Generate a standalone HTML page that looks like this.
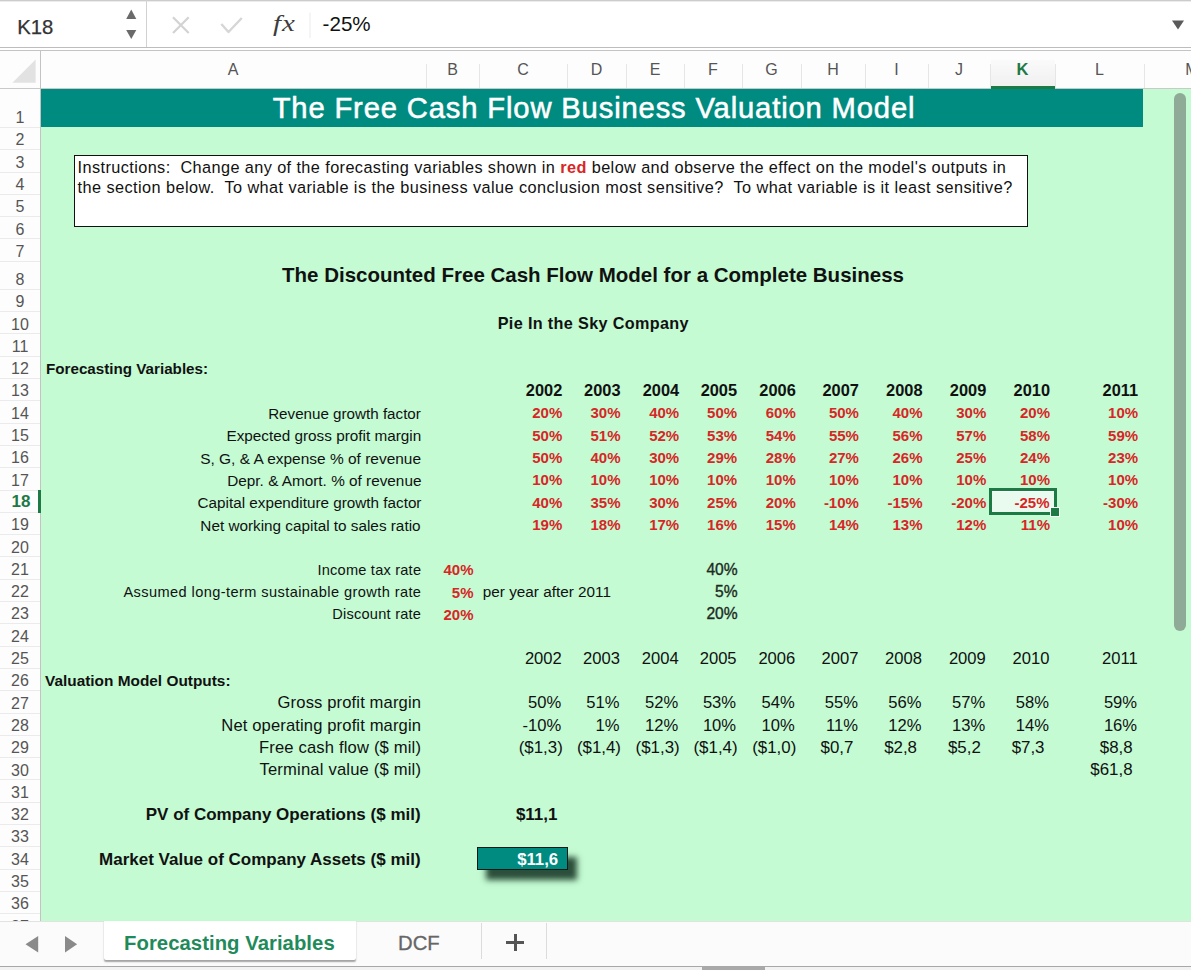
<!DOCTYPE html><html><head><meta charset="utf-8"><style>html,body{margin:0;padding:0;}body{width:1191px;height:970px;position:relative;overflow:hidden;background:#fff;}</style></head><body>
<div style="position:absolute;left:41px;top:88.5px;width:1150px;height:833.5px;background:#c4fbd3;"></div>
<div style="position:absolute;left:41px;top:89px;width:1102px;height:38px;background:#008b80;"></div>
<div style="position:absolute;left:0px;top:0px;width:1191px;height:1px;background:#cccccc;"></div>
<div style="position:absolute;left:0px;top:1px;width:1191px;height:1px;background:#ececec;"></div>
<div style="position:absolute;left:0px;top:47px;width:1191px;height:1px;background:#bdbdbd;"></div>
<div style="position:absolute;left:0px;top:50px;width:1191px;height:1px;background:#c4c4c4;"></div>
<div style="position:absolute;left:146px;top:0px;width:1px;height:47px;background:#d2d2d2;"></div>
<div style="position:absolute;top:15.09px;font-family:'Liberation Sans';font-size:20.3px;line-height:24.36px;white-space:pre;color:#333;left:17.2px;-webkit-text-stroke:0.25px #333;">K18</div>
<svg style="position:absolute;left:0;top:0" width="400" height="47"><polygon points="126.2,19.1 136.3,19.1 131.25,9.4" fill="#6a6a6a"/><polygon points="126.2,29.9 136.3,29.9 131.25,39" fill="#6a6a6a"/><path d="M173 17.3 L188.7 33 M188.7 17.3 L173 33" stroke="#d3d3d3" stroke-width="2.2" fill="none"/><path d="M221.3 24 L228.5 32 L241.8 18" stroke="#d6d6d6" stroke-width="2.4" fill="none" stroke-linejoin="round"/><rect x="309.5" y="12.5" width="1" height="25.5" fill="#ececec"/></svg>
<div style="position:absolute;top:10.30px;font-family:'Liberation Serif';font-size:22.5px;line-height:27.0px;white-space:pre;color:#3c3c3c;font-style:italic;left:272.5px;transform:scaleX(1.28);transform-origin:0 0;letter-spacing:0.8px;">fx</div>
<div style="position:absolute;top:12.10px;font-family:'Liberation Sans';font-size:20.6px;line-height:24.72px;white-space:pre;color:#111;left:322.6px;">-25%</div>
<svg style="position:absolute;left:1165px;top:15px" width="25" height="20"><polygon points="7,5.4 19,5.4 13,14.5" fill="#5a5a5a"/></svg>
<div style="position:absolute;left:0px;top:51px;width:1191px;height:37px;background:#fdfdfd;"></div>
<div style="position:absolute;left:0px;top:87.5px;width:1191px;height:1px;background:#c9c9c9;"></div>
<svg style="position:absolute;left:0;top:51px" width="40" height="37"><polygon points="12.4,31.8 35.6,31.8 35.6,8.6" fill="#e2e2e2"/></svg>
<div style="position:absolute;left:40px;top:51px;width:1px;height:871px;background:#c3c3c3;"></div>
<div style="position:absolute;left:425.5px;top:64px;width:1px;height:24px;background:#e6e6e6;"></div>
<div style="position:absolute;left:478.5px;top:64px;width:1px;height:24px;background:#e6e6e6;"></div>
<div style="position:absolute;left:566.5px;top:64px;width:1px;height:24px;background:#e6e6e6;"></div>
<div style="position:absolute;left:625.5px;top:64px;width:1px;height:24px;background:#e6e6e6;"></div>
<div style="position:absolute;left:683.5px;top:64px;width:1px;height:24px;background:#e6e6e6;"></div>
<div style="position:absolute;left:741.5px;top:64px;width:1px;height:24px;background:#e6e6e6;"></div>
<div style="position:absolute;left:800.5px;top:64px;width:1px;height:24px;background:#e6e6e6;"></div>
<div style="position:absolute;left:864.5px;top:64px;width:1px;height:24px;background:#e6e6e6;"></div>
<div style="position:absolute;left:927.5px;top:64px;width:1px;height:24px;background:#e6e6e6;"></div>
<div style="position:absolute;left:989.5px;top:64px;width:1px;height:24px;background:#e6e6e6;"></div>
<div style="position:absolute;left:1054.5px;top:64px;width:1px;height:24px;background:#e6e6e6;"></div>
<div style="position:absolute;left:1143.5px;top:64px;width:1px;height:24px;background:#e6e6e6;"></div>
<div style="position:absolute;left:990.5px;top:59.8px;width:64.5px;height:26px;background:linear-gradient(#fafafa,#f0f0f0)"></div>
<div style="position:absolute;left:990.5px;top:85.5px;width:64.5px;height:3px;background:#1d7a45;"></div>
<div style="position:absolute;top:60.46px;font-family:'Liberation Sans';font-size:16px;line-height:19.2px;white-space:pre;color:#555;left:-367.0px;width:1200px;text-align:center;">A</div>
<div style="position:absolute;top:60.46px;font-family:'Liberation Sans';font-size:16px;line-height:19.2px;white-space:pre;color:#555;left:-147.5px;width:1200px;text-align:center;">B</div>
<div style="position:absolute;top:60.46px;font-family:'Liberation Sans';font-size:16px;line-height:19.2px;white-space:pre;color:#555;left:-77.0px;width:1200px;text-align:center;">C</div>
<div style="position:absolute;top:60.46px;font-family:'Liberation Sans';font-size:16px;line-height:19.2px;white-space:pre;color:#555;left:-3.5px;width:1200px;text-align:center;">D</div>
<div style="position:absolute;top:60.46px;font-family:'Liberation Sans';font-size:16px;line-height:19.2px;white-space:pre;color:#555;left:55.0px;width:1200px;text-align:center;">E</div>
<div style="position:absolute;top:60.46px;font-family:'Liberation Sans';font-size:16px;line-height:19.2px;white-space:pre;color:#555;left:113.0px;width:1200px;text-align:center;">F</div>
<div style="position:absolute;top:60.46px;font-family:'Liberation Sans';font-size:16px;line-height:19.2px;white-space:pre;color:#555;left:171.5px;width:1200px;text-align:center;">G</div>
<div style="position:absolute;top:60.46px;font-family:'Liberation Sans';font-size:16px;line-height:19.2px;white-space:pre;color:#555;left:233.0px;width:1200px;text-align:center;">H</div>
<div style="position:absolute;top:60.46px;font-family:'Liberation Sans';font-size:16px;line-height:19.2px;white-space:pre;color:#555;left:296.5px;width:1200px;text-align:center;">I</div>
<div style="position:absolute;top:60.46px;font-family:'Liberation Sans';font-size:16px;line-height:19.2px;white-space:pre;color:#555;left:359.0px;width:1200px;text-align:center;">J</div>
<div style="position:absolute;top:60.28px;font-family:'Liberation Sans';font-size:16.5px;line-height:19.8px;white-space:pre;color:#1d7a45;font-weight:bold;left:422.5px;width:1200px;text-align:center;">K</div>
<div style="position:absolute;top:60.46px;font-family:'Liberation Sans';font-size:16px;line-height:19.2px;white-space:pre;color:#555;left:499.5px;width:1200px;text-align:center;">L</div>
<div style="position:absolute;top:60.46px;font-family:'Liberation Sans';font-size:16px;line-height:19.2px;white-space:pre;color:#555;left:1185.3px;">M</div>
<div style="position:absolute;left:0px;top:88.5px;width:40px;height:833.5px;background:#fdfdfd;"></div>
<div style="position:absolute;left:0px;top:126.9px;width:40px;height:1px;background:#ebebeb;"></div>
<div style="position:absolute;left:0px;top:149.20000000000002px;width:40px;height:1px;background:#ebebeb;"></div>
<div style="position:absolute;left:0px;top:171.50000000000003px;width:40px;height:1px;background:#ebebeb;"></div>
<div style="position:absolute;left:0px;top:193.8px;width:40px;height:1px;background:#ebebeb;"></div>
<div style="position:absolute;left:0px;top:216.10000000000002px;width:40px;height:1px;background:#ebebeb;"></div>
<div style="position:absolute;left:0px;top:238.40000000000003px;width:40px;height:1px;background:#ebebeb;"></div>
<div style="position:absolute;left:0px;top:260.7px;width:40px;height:1px;background:#ebebeb;"></div>
<div style="position:absolute;left:0px;top:288.8px;width:40px;height:1px;background:#ebebeb;"></div>
<div style="position:absolute;left:0px;top:311.1px;width:40px;height:1px;background:#ebebeb;"></div>
<div style="position:absolute;left:0px;top:333.40000000000003px;width:40px;height:1px;background:#ebebeb;"></div>
<div style="position:absolute;left:0px;top:355.70000000000005px;width:40px;height:1px;background:#ebebeb;"></div>
<div style="position:absolute;left:0px;top:378.00000000000006px;width:40px;height:1px;background:#ebebeb;"></div>
<div style="position:absolute;left:0px;top:400.3px;width:40px;height:1px;background:#ebebeb;"></div>
<div style="position:absolute;left:0px;top:422.6px;width:40px;height:1px;background:#ebebeb;"></div>
<div style="position:absolute;left:0px;top:444.90000000000003px;width:40px;height:1px;background:#ebebeb;"></div>
<div style="position:absolute;left:0px;top:467.2px;width:40px;height:1px;background:#ebebeb;"></div>
<div style="position:absolute;left:0px;top:489.50000000000006px;width:40px;height:1px;background:#ebebeb;"></div>
<div style="position:absolute;left:0px;top:511.79999999999995px;width:40px;height:1px;background:#ebebeb;"></div>
<div style="position:absolute;left:0px;top:534.0999999999999px;width:40px;height:1px;background:#ebebeb;"></div>
<div style="position:absolute;left:0px;top:556.4px;width:40px;height:1px;background:#ebebeb;"></div>
<div style="position:absolute;left:0px;top:578.7px;width:40px;height:1px;background:#ebebeb;"></div>
<div style="position:absolute;left:0px;top:601.0px;width:40px;height:1px;background:#ebebeb;"></div>
<div style="position:absolute;left:0px;top:623.3px;width:40px;height:1px;background:#ebebeb;"></div>
<div style="position:absolute;left:0px;top:645.5999999999999px;width:40px;height:1px;background:#ebebeb;"></div>
<div style="position:absolute;left:0px;top:667.9px;width:40px;height:1px;background:#ebebeb;"></div>
<div style="position:absolute;left:0px;top:690.2px;width:40px;height:1px;background:#ebebeb;"></div>
<div style="position:absolute;left:0px;top:712.5px;width:40px;height:1px;background:#ebebeb;"></div>
<div style="position:absolute;left:0px;top:734.8px;width:40px;height:1px;background:#ebebeb;"></div>
<div style="position:absolute;left:0px;top:757.0999999999999px;width:40px;height:1px;background:#ebebeb;"></div>
<div style="position:absolute;left:0px;top:779.4px;width:40px;height:1px;background:#ebebeb;"></div>
<div style="position:absolute;left:0px;top:801.7px;width:40px;height:1px;background:#ebebeb;"></div>
<div style="position:absolute;left:0px;top:824.0px;width:40px;height:1px;background:#ebebeb;"></div>
<div style="position:absolute;left:0px;top:846.3px;width:40px;height:1px;background:#ebebeb;"></div>
<div style="position:absolute;left:0px;top:868.5999999999999px;width:40px;height:1px;background:#ebebeb;"></div>
<div style="position:absolute;left:0px;top:890.9000000000001px;width:40px;height:1px;background:#ebebeb;"></div>
<div style="position:absolute;left:0px;top:913.2px;width:40px;height:1px;background:#ebebeb;"></div>
<div style="position:absolute;left:0;top:0;width:41px;height:921px;overflow:hidden">
<div style="position:absolute;top:108.36px;font-family:'Liberation Sans';font-size:16px;line-height:19.2px;white-space:pre;color:#555;left:-580px;width:1200px;text-align:center;">1</div>
<div style="position:absolute;top:130.36px;font-family:'Liberation Sans';font-size:16px;line-height:19.2px;white-space:pre;color:#555;left:-580px;width:1200px;text-align:center;">2</div>
<div style="position:absolute;top:152.66px;font-family:'Liberation Sans';font-size:16px;line-height:19.2px;white-space:pre;color:#555;left:-580px;width:1200px;text-align:center;">3</div>
<div style="position:absolute;top:174.96px;font-family:'Liberation Sans';font-size:16px;line-height:19.2px;white-space:pre;color:#555;left:-580px;width:1200px;text-align:center;">4</div>
<div style="position:absolute;top:197.26px;font-family:'Liberation Sans';font-size:16px;line-height:19.2px;white-space:pre;color:#555;left:-580px;width:1200px;text-align:center;">5</div>
<div style="position:absolute;top:219.56px;font-family:'Liberation Sans';font-size:16px;line-height:19.2px;white-space:pre;color:#555;left:-580px;width:1200px;text-align:center;">6</div>
<div style="position:absolute;top:241.86px;font-family:'Liberation Sans';font-size:16px;line-height:19.2px;white-space:pre;color:#555;left:-580px;width:1200px;text-align:center;">7</div>
<div style="position:absolute;top:269.96px;font-family:'Liberation Sans';font-size:16px;line-height:19.2px;white-space:pre;color:#555;left:-580px;width:1200px;text-align:center;">8</div>
<div style="position:absolute;top:292.26px;font-family:'Liberation Sans';font-size:16px;line-height:19.2px;white-space:pre;color:#555;left:-580px;width:1200px;text-align:center;">9</div>
<div style="position:absolute;top:314.56px;font-family:'Liberation Sans';font-size:16px;line-height:19.2px;white-space:pre;color:#555;left:-580px;width:1200px;text-align:center;">10</div>
<div style="position:absolute;top:336.86px;font-family:'Liberation Sans';font-size:16px;line-height:19.2px;white-space:pre;color:#555;left:-580px;width:1200px;text-align:center;">11</div>
<div style="position:absolute;top:359.16px;font-family:'Liberation Sans';font-size:16px;line-height:19.2px;white-space:pre;color:#555;left:-580px;width:1200px;text-align:center;">12</div>
<div style="position:absolute;top:381.46px;font-family:'Liberation Sans';font-size:16px;line-height:19.2px;white-space:pre;color:#555;left:-580px;width:1200px;text-align:center;">13</div>
<div style="position:absolute;top:403.76px;font-family:'Liberation Sans';font-size:16px;line-height:19.2px;white-space:pre;color:#555;left:-580px;width:1200px;text-align:center;">14</div>
<div style="position:absolute;top:426.06px;font-family:'Liberation Sans';font-size:16px;line-height:19.2px;white-space:pre;color:#555;left:-580px;width:1200px;text-align:center;">15</div>
<div style="position:absolute;top:448.36px;font-family:'Liberation Sans';font-size:16px;line-height:19.2px;white-space:pre;color:#555;left:-580px;width:1200px;text-align:center;">16</div>
<div style="position:absolute;top:470.66px;font-family:'Liberation Sans';font-size:16px;line-height:19.2px;white-space:pre;color:#555;left:-580px;width:1200px;text-align:center;">17</div>
<div style="position:absolute;top:492.01px;font-family:'Liberation Sans';font-size:17px;line-height:20.4px;white-space:pre;color:#1d7a45;font-weight:bold;left:-579px;width:1200px;text-align:center;">18</div>
<div style="position:absolute;top:515.26px;font-family:'Liberation Sans';font-size:16px;line-height:19.2px;white-space:pre;color:#555;left:-580px;width:1200px;text-align:center;">19</div>
<div style="position:absolute;top:537.56px;font-family:'Liberation Sans';font-size:16px;line-height:19.2px;white-space:pre;color:#555;left:-580px;width:1200px;text-align:center;">20</div>
<div style="position:absolute;top:559.86px;font-family:'Liberation Sans';font-size:16px;line-height:19.2px;white-space:pre;color:#555;left:-580px;width:1200px;text-align:center;">21</div>
<div style="position:absolute;top:582.16px;font-family:'Liberation Sans';font-size:16px;line-height:19.2px;white-space:pre;color:#555;left:-580px;width:1200px;text-align:center;">22</div>
<div style="position:absolute;top:604.46px;font-family:'Liberation Sans';font-size:16px;line-height:19.2px;white-space:pre;color:#555;left:-580px;width:1200px;text-align:center;">23</div>
<div style="position:absolute;top:626.76px;font-family:'Liberation Sans';font-size:16px;line-height:19.2px;white-space:pre;color:#555;left:-580px;width:1200px;text-align:center;">24</div>
<div style="position:absolute;top:649.06px;font-family:'Liberation Sans';font-size:16px;line-height:19.2px;white-space:pre;color:#555;left:-580px;width:1200px;text-align:center;">25</div>
<div style="position:absolute;top:671.36px;font-family:'Liberation Sans';font-size:16px;line-height:19.2px;white-space:pre;color:#555;left:-580px;width:1200px;text-align:center;">26</div>
<div style="position:absolute;top:693.66px;font-family:'Liberation Sans';font-size:16px;line-height:19.2px;white-space:pre;color:#555;left:-580px;width:1200px;text-align:center;">27</div>
<div style="position:absolute;top:715.96px;font-family:'Liberation Sans';font-size:16px;line-height:19.2px;white-space:pre;color:#555;left:-580px;width:1200px;text-align:center;">28</div>
<div style="position:absolute;top:738.26px;font-family:'Liberation Sans';font-size:16px;line-height:19.2px;white-space:pre;color:#555;left:-580px;width:1200px;text-align:center;">29</div>
<div style="position:absolute;top:760.56px;font-family:'Liberation Sans';font-size:16px;line-height:19.2px;white-space:pre;color:#555;left:-580px;width:1200px;text-align:center;">30</div>
<div style="position:absolute;top:782.86px;font-family:'Liberation Sans';font-size:16px;line-height:19.2px;white-space:pre;color:#555;left:-580px;width:1200px;text-align:center;">31</div>
<div style="position:absolute;top:805.16px;font-family:'Liberation Sans';font-size:16px;line-height:19.2px;white-space:pre;color:#555;left:-580px;width:1200px;text-align:center;">32</div>
<div style="position:absolute;top:827.46px;font-family:'Liberation Sans';font-size:16px;line-height:19.2px;white-space:pre;color:#555;left:-580px;width:1200px;text-align:center;">33</div>
<div style="position:absolute;top:849.76px;font-family:'Liberation Sans';font-size:16px;line-height:19.2px;white-space:pre;color:#555;left:-580px;width:1200px;text-align:center;">34</div>
<div style="position:absolute;top:872.06px;font-family:'Liberation Sans';font-size:16px;line-height:19.2px;white-space:pre;color:#555;left:-580px;width:1200px;text-align:center;">35</div>
<div style="position:absolute;top:894.36px;font-family:'Liberation Sans';font-size:16px;line-height:19.2px;white-space:pre;color:#555;left:-580px;width:1200px;text-align:center;">36</div>
<div style="position:absolute;top:916.66px;font-family:'Liberation Sans';font-size:16px;line-height:19.2px;white-space:pre;color:#555;left:-580px;width:1200px;text-align:center;">37</div>
</div>
<div style="position:absolute;left:37.8px;top:489.6px;width:3.3px;height:23.4px;background:#1d7a45;"></div>
<div style="position:absolute;top:90.76px;font-family:'Liberation Sans';font-size:29.2px;line-height:35.04px;white-space:pre;color:#fff;letter-spacing:0.85px;left:-6px;width:1200px;text-align:center;-webkit-text-stroke:0.55px #fff;">The Free Cash Flow Business Valuation Model</div>
<div style="position:absolute;left:73.8px;top:154.5px;width:954.2px;height:72.2px;background:#fff;box-sizing:border-box;border:solid #111;border-width:1.4px 1.9px 1.9px 1.4px;"></div>
<div style="position:absolute;left:77.6px;top:157.77px;font-family:'Liberation Sans';font-size:16.3px;line-height:19.56px;white-space:pre;color:#111;letter-spacing:0.4px">Instructions:  Change any of the forecasting variables shown in <b style="color:#d82626">red</b> below and observe the effect on the model's outputs in</div>
<div style="position:absolute;top:177.67px;font-family:'Liberation Sans';font-size:16.3px;line-height:19.56px;white-space:pre;color:#111;letter-spacing:0.43px;left:77.6px;">the section below.  To what variable is the business value conclusion most sensitive?  To what variable is it least sensitive?</div>
<div style="position:absolute;top:263.30px;font-family:'Liberation Sans';font-size:20.5px;line-height:24.6px;white-space:pre;color:#111;font-weight:bold;left:-7px;width:1200px;text-align:center;">The Discounted Free Cash Flow Model for a Complete Business</div>
<div style="position:absolute;top:313.77px;font-family:'Liberation Sans';font-size:16.2px;line-height:19.44px;white-space:pre;color:#111;font-weight:bold;letter-spacing:0.35px;left:-6.7000000000000455px;width:1200px;text-align:center;">Pie In the Sky Company</div>
<div style="position:absolute;top:360.31px;font-family:'Liberation Sans';font-size:15.2px;line-height:18.24px;white-space:pre;color:#111;font-weight:bold;left:46px;">Forecasting Variables:</div>
<div style="position:absolute;top:381.48px;font-family:'Liberation Sans';font-size:16.4px;line-height:19.68px;white-space:pre;color:#111;font-weight:bold;right:628.7px;">2002</div>
<div style="position:absolute;top:381.48px;font-family:'Liberation Sans';font-size:16.4px;line-height:19.68px;white-space:pre;color:#111;font-weight:bold;right:570.5px;">2003</div>
<div style="position:absolute;top:381.48px;font-family:'Liberation Sans';font-size:16.4px;line-height:19.68px;white-space:pre;color:#111;font-weight:bold;right:511.79999999999995px;">2004</div>
<div style="position:absolute;top:381.48px;font-family:'Liberation Sans';font-size:16.4px;line-height:19.68px;white-space:pre;color:#111;font-weight:bold;right:453.9px;">2005</div>
<div style="position:absolute;top:381.48px;font-family:'Liberation Sans';font-size:16.4px;line-height:19.68px;white-space:pre;color:#111;font-weight:bold;right:395.20000000000005px;">2006</div>
<div style="position:absolute;top:381.48px;font-family:'Liberation Sans';font-size:16.4px;line-height:19.68px;white-space:pre;color:#111;font-weight:bold;right:332.1px;">2007</div>
<div style="position:absolute;top:381.48px;font-family:'Liberation Sans';font-size:16.4px;line-height:19.68px;white-space:pre;color:#111;font-weight:bold;right:268.5px;">2008</div>
<div style="position:absolute;top:381.48px;font-family:'Liberation Sans';font-size:16.4px;line-height:19.68px;white-space:pre;color:#111;font-weight:bold;right:204.70000000000005px;">2009</div>
<div style="position:absolute;top:381.48px;font-family:'Liberation Sans';font-size:16.4px;line-height:19.68px;white-space:pre;color:#111;font-weight:bold;right:141px;">2010</div>
<div style="position:absolute;top:381.48px;font-family:'Liberation Sans';font-size:16.4px;line-height:19.68px;white-space:pre;color:#111;font-weight:bold;right:52.90000000000009px;">2011</div>
<div style="position:absolute;top:406.05px;font-family:'Liberation Sans';font-size:14.0px;line-height:16.8px;white-space:pre;color:#111;right:770px;transform:scaleX(1.0842);transform-origin:100% 0;">Revenue growth factor</div>
<div style="position:absolute;top:404.40px;font-family:'Liberation Sans';font-size:15px;line-height:18.0px;white-space:pre;color:#d82626;font-weight:bold;right:628.7px;">20%</div>
<div style="position:absolute;top:404.40px;font-family:'Liberation Sans';font-size:15px;line-height:18.0px;white-space:pre;color:#d82626;font-weight:bold;right:570.5px;">30%</div>
<div style="position:absolute;top:404.40px;font-family:'Liberation Sans';font-size:15px;line-height:18.0px;white-space:pre;color:#d82626;font-weight:bold;right:511.79999999999995px;">40%</div>
<div style="position:absolute;top:404.40px;font-family:'Liberation Sans';font-size:15px;line-height:18.0px;white-space:pre;color:#d82626;font-weight:bold;right:453.9px;">50%</div>
<div style="position:absolute;top:404.40px;font-family:'Liberation Sans';font-size:15px;line-height:18.0px;white-space:pre;color:#d82626;font-weight:bold;right:395.20000000000005px;">60%</div>
<div style="position:absolute;top:404.40px;font-family:'Liberation Sans';font-size:15px;line-height:18.0px;white-space:pre;color:#d82626;font-weight:bold;right:332.1px;">50%</div>
<div style="position:absolute;top:404.40px;font-family:'Liberation Sans';font-size:15px;line-height:18.0px;white-space:pre;color:#d82626;font-weight:bold;right:268.5px;">40%</div>
<div style="position:absolute;top:404.40px;font-family:'Liberation Sans';font-size:15px;line-height:18.0px;white-space:pre;color:#d82626;font-weight:bold;right:204.70000000000005px;">30%</div>
<div style="position:absolute;top:404.40px;font-family:'Liberation Sans';font-size:15px;line-height:18.0px;white-space:pre;color:#d82626;font-weight:bold;right:141px;">20%</div>
<div style="position:absolute;top:404.40px;font-family:'Liberation Sans';font-size:15px;line-height:18.0px;white-space:pre;color:#d82626;font-weight:bold;right:52.90000000000009px;">10%</div>
<div style="position:absolute;top:428.35px;font-family:'Liberation Sans';font-size:14.0px;line-height:16.8px;white-space:pre;color:#111;right:770px;transform:scaleX(1.093);transform-origin:100% 0;">Expected gross profit margin</div>
<div style="position:absolute;top:426.70px;font-family:'Liberation Sans';font-size:15px;line-height:18.0px;white-space:pre;color:#d82626;font-weight:bold;right:628.7px;">50%</div>
<div style="position:absolute;top:426.70px;font-family:'Liberation Sans';font-size:15px;line-height:18.0px;white-space:pre;color:#d82626;font-weight:bold;right:570.5px;">51%</div>
<div style="position:absolute;top:426.70px;font-family:'Liberation Sans';font-size:15px;line-height:18.0px;white-space:pre;color:#d82626;font-weight:bold;right:511.79999999999995px;">52%</div>
<div style="position:absolute;top:426.70px;font-family:'Liberation Sans';font-size:15px;line-height:18.0px;white-space:pre;color:#d82626;font-weight:bold;right:453.9px;">53%</div>
<div style="position:absolute;top:426.70px;font-family:'Liberation Sans';font-size:15px;line-height:18.0px;white-space:pre;color:#d82626;font-weight:bold;right:395.20000000000005px;">54%</div>
<div style="position:absolute;top:426.70px;font-family:'Liberation Sans';font-size:15px;line-height:18.0px;white-space:pre;color:#d82626;font-weight:bold;right:332.1px;">55%</div>
<div style="position:absolute;top:426.70px;font-family:'Liberation Sans';font-size:15px;line-height:18.0px;white-space:pre;color:#d82626;font-weight:bold;right:268.5px;">56%</div>
<div style="position:absolute;top:426.70px;font-family:'Liberation Sans';font-size:15px;line-height:18.0px;white-space:pre;color:#d82626;font-weight:bold;right:204.70000000000005px;">57%</div>
<div style="position:absolute;top:426.70px;font-family:'Liberation Sans';font-size:15px;line-height:18.0px;white-space:pre;color:#d82626;font-weight:bold;right:141px;">58%</div>
<div style="position:absolute;top:426.70px;font-family:'Liberation Sans';font-size:15px;line-height:18.0px;white-space:pre;color:#d82626;font-weight:bold;right:52.90000000000009px;">59%</div>
<div style="position:absolute;top:450.65px;font-family:'Liberation Sans';font-size:14.0px;line-height:16.8px;white-space:pre;color:#111;right:770px;transform:scaleX(1.1041);transform-origin:100% 0;">S, G, &amp; A expense % of revenue</div>
<div style="position:absolute;top:449.00px;font-family:'Liberation Sans';font-size:15px;line-height:18.0px;white-space:pre;color:#d82626;font-weight:bold;right:628.7px;">50%</div>
<div style="position:absolute;top:449.00px;font-family:'Liberation Sans';font-size:15px;line-height:18.0px;white-space:pre;color:#d82626;font-weight:bold;right:570.5px;">40%</div>
<div style="position:absolute;top:449.00px;font-family:'Liberation Sans';font-size:15px;line-height:18.0px;white-space:pre;color:#d82626;font-weight:bold;right:511.79999999999995px;">30%</div>
<div style="position:absolute;top:449.00px;font-family:'Liberation Sans';font-size:15px;line-height:18.0px;white-space:pre;color:#d82626;font-weight:bold;right:453.9px;">29%</div>
<div style="position:absolute;top:449.00px;font-family:'Liberation Sans';font-size:15px;line-height:18.0px;white-space:pre;color:#d82626;font-weight:bold;right:395.20000000000005px;">28%</div>
<div style="position:absolute;top:449.00px;font-family:'Liberation Sans';font-size:15px;line-height:18.0px;white-space:pre;color:#d82626;font-weight:bold;right:332.1px;">27%</div>
<div style="position:absolute;top:449.00px;font-family:'Liberation Sans';font-size:15px;line-height:18.0px;white-space:pre;color:#d82626;font-weight:bold;right:268.5px;">26%</div>
<div style="position:absolute;top:449.00px;font-family:'Liberation Sans';font-size:15px;line-height:18.0px;white-space:pre;color:#d82626;font-weight:bold;right:204.70000000000005px;">25%</div>
<div style="position:absolute;top:449.00px;font-family:'Liberation Sans';font-size:15px;line-height:18.0px;white-space:pre;color:#d82626;font-weight:bold;right:141px;">24%</div>
<div style="position:absolute;top:449.00px;font-family:'Liberation Sans';font-size:15px;line-height:18.0px;white-space:pre;color:#d82626;font-weight:bold;right:52.90000000000009px;">23%</div>
<div style="position:absolute;top:472.95px;font-family:'Liberation Sans';font-size:14.0px;line-height:16.8px;white-space:pre;color:#111;right:770px;transform:scaleX(1.0944);transform-origin:100% 0;">Depr. &amp; Amort. % of revenue</div>
<div style="position:absolute;top:471.30px;font-family:'Liberation Sans';font-size:15px;line-height:18.0px;white-space:pre;color:#d82626;font-weight:bold;right:628.7px;">10%</div>
<div style="position:absolute;top:471.30px;font-family:'Liberation Sans';font-size:15px;line-height:18.0px;white-space:pre;color:#d82626;font-weight:bold;right:570.5px;">10%</div>
<div style="position:absolute;top:471.30px;font-family:'Liberation Sans';font-size:15px;line-height:18.0px;white-space:pre;color:#d82626;font-weight:bold;right:511.79999999999995px;">10%</div>
<div style="position:absolute;top:471.30px;font-family:'Liberation Sans';font-size:15px;line-height:18.0px;white-space:pre;color:#d82626;font-weight:bold;right:453.9px;">10%</div>
<div style="position:absolute;top:471.30px;font-family:'Liberation Sans';font-size:15px;line-height:18.0px;white-space:pre;color:#d82626;font-weight:bold;right:395.20000000000005px;">10%</div>
<div style="position:absolute;top:471.30px;font-family:'Liberation Sans';font-size:15px;line-height:18.0px;white-space:pre;color:#d82626;font-weight:bold;right:332.1px;">10%</div>
<div style="position:absolute;top:471.30px;font-family:'Liberation Sans';font-size:15px;line-height:18.0px;white-space:pre;color:#d82626;font-weight:bold;right:268.5px;">10%</div>
<div style="position:absolute;top:471.30px;font-family:'Liberation Sans';font-size:15px;line-height:18.0px;white-space:pre;color:#d82626;font-weight:bold;right:204.70000000000005px;">10%</div>
<div style="position:absolute;top:471.30px;font-family:'Liberation Sans';font-size:15px;line-height:18.0px;white-space:pre;color:#d82626;font-weight:bold;right:141px;">10%</div>
<div style="position:absolute;top:471.30px;font-family:'Liberation Sans';font-size:15px;line-height:18.0px;white-space:pre;color:#d82626;font-weight:bold;right:52.90000000000009px;">10%</div>
<div style="position:absolute;top:495.25px;font-family:'Liberation Sans';font-size:14.0px;line-height:16.8px;white-space:pre;color:#111;right:770px;transform:scaleX(1.0898);transform-origin:100% 0;">Capital expenditure growth factor</div>
<div style="position:absolute;top:493.60px;font-family:'Liberation Sans';font-size:15px;line-height:18.0px;white-space:pre;color:#d82626;font-weight:bold;right:628.7px;">40%</div>
<div style="position:absolute;top:493.60px;font-family:'Liberation Sans';font-size:15px;line-height:18.0px;white-space:pre;color:#d82626;font-weight:bold;right:570.5px;">35%</div>
<div style="position:absolute;top:493.60px;font-family:'Liberation Sans';font-size:15px;line-height:18.0px;white-space:pre;color:#d82626;font-weight:bold;right:511.79999999999995px;">30%</div>
<div style="position:absolute;top:493.60px;font-family:'Liberation Sans';font-size:15px;line-height:18.0px;white-space:pre;color:#d82626;font-weight:bold;right:453.9px;">25%</div>
<div style="position:absolute;top:493.60px;font-family:'Liberation Sans';font-size:15px;line-height:18.0px;white-space:pre;color:#d82626;font-weight:bold;right:395.20000000000005px;">20%</div>
<div style="position:absolute;top:493.60px;font-family:'Liberation Sans';font-size:15px;line-height:18.0px;white-space:pre;color:#d82626;font-weight:bold;right:332.1px;">-10%</div>
<div style="position:absolute;top:493.60px;font-family:'Liberation Sans';font-size:15px;line-height:18.0px;white-space:pre;color:#d82626;font-weight:bold;right:268.5px;">-15%</div>
<div style="position:absolute;top:493.60px;font-family:'Liberation Sans';font-size:15px;line-height:18.0px;white-space:pre;color:#d82626;font-weight:bold;right:204.70000000000005px;">-20%</div>
<div style="position:absolute;top:493.60px;font-family:'Liberation Sans';font-size:15px;line-height:18.0px;white-space:pre;color:#d82626;font-weight:bold;right:52.90000000000009px;">-30%</div>
<div style="position:absolute;top:517.55px;font-family:'Liberation Sans';font-size:14.0px;line-height:16.8px;white-space:pre;color:#111;right:770px;transform:scaleX(1.0926);transform-origin:100% 0;">Net working capital to sales ratio</div>
<div style="position:absolute;top:515.90px;font-family:'Liberation Sans';font-size:15px;line-height:18.0px;white-space:pre;color:#d82626;font-weight:bold;right:628.7px;">19%</div>
<div style="position:absolute;top:515.90px;font-family:'Liberation Sans';font-size:15px;line-height:18.0px;white-space:pre;color:#d82626;font-weight:bold;right:570.5px;">18%</div>
<div style="position:absolute;top:515.90px;font-family:'Liberation Sans';font-size:15px;line-height:18.0px;white-space:pre;color:#d82626;font-weight:bold;right:511.79999999999995px;">17%</div>
<div style="position:absolute;top:515.90px;font-family:'Liberation Sans';font-size:15px;line-height:18.0px;white-space:pre;color:#d82626;font-weight:bold;right:453.9px;">16%</div>
<div style="position:absolute;top:515.90px;font-family:'Liberation Sans';font-size:15px;line-height:18.0px;white-space:pre;color:#d82626;font-weight:bold;right:395.20000000000005px;">15%</div>
<div style="position:absolute;top:515.90px;font-family:'Liberation Sans';font-size:15px;line-height:18.0px;white-space:pre;color:#d82626;font-weight:bold;right:332.1px;">14%</div>
<div style="position:absolute;top:515.90px;font-family:'Liberation Sans';font-size:15px;line-height:18.0px;white-space:pre;color:#d82626;font-weight:bold;right:268.5px;">13%</div>
<div style="position:absolute;top:515.90px;font-family:'Liberation Sans';font-size:15px;line-height:18.0px;white-space:pre;color:#d82626;font-weight:bold;right:204.70000000000005px;">12%</div>
<div style="position:absolute;top:515.90px;font-family:'Liberation Sans';font-size:15px;line-height:18.0px;white-space:pre;color:#d82626;font-weight:bold;right:141px;">11%</div>
<div style="position:absolute;top:515.90px;font-family:'Liberation Sans';font-size:15px;line-height:18.0px;white-space:pre;color:#d82626;font-weight:bold;right:52.90000000000009px;">10%</div>
<div style="position:absolute;left:988.7px;top:487.6px;width:68.4px;height:27.2px;background:#e9fbee;box-sizing:border-box;border:3px solid #1d7a45;"></div>
<div style="position:absolute;left:991.7px;top:490.6px;width:62.4px;height:1px;background:#fbfffc;"></div>
<div style="position:absolute;top:493.50px;font-family:'Liberation Sans';font-size:15px;line-height:18.0px;white-space:pre;color:#d82626;font-weight:bold;right:141.5px;">-25%</div>
<div style="position:absolute;left:1049.5px;top:507px;width:10px;height:10px;background:#fbfffc;"></div>
<div style="position:absolute;left:1050.5px;top:508px;width:8px;height:8px;background:#1d7a45;"></div>
<div style="position:absolute;top:561.58px;font-family:'Liberation Sans';font-size:14.6px;line-height:17.52px;white-space:pre;color:#111;letter-spacing:0.208px;right:770px;margin-right:-0.208px;">Income tax rate</div>
<div style="position:absolute;top:583.88px;font-family:'Liberation Sans';font-size:14.6px;line-height:17.52px;white-space:pre;color:#111;letter-spacing:0.402px;right:770px;margin-right:-0.402px;">Assumed long-term sustainable growth rate</div>
<div style="position:absolute;top:606.18px;font-family:'Liberation Sans';font-size:14.6px;line-height:17.52px;white-space:pre;color:#111;letter-spacing:0.234px;right:770px;margin-right:-0.234px;">Discount rate</div>
<div style="position:absolute;top:561.20px;font-family:'Liberation Sans';font-size:15px;line-height:18.0px;white-space:pre;color:#d82626;font-weight:bold;right:717.5px;">40%</div>
<div style="position:absolute;top:560.63px;font-family:'Liberation Sans';font-size:15.6px;line-height:18.72px;white-space:pre;color:#1c2a22;right:453.4px;-webkit-text-stroke:0.35px #1c2a22;">40%</div>
<div style="position:absolute;top:583.50px;font-family:'Liberation Sans';font-size:15px;line-height:18.0px;white-space:pre;color:#d82626;font-weight:bold;right:717.5px;">5%</div>
<div style="position:absolute;top:582.93px;font-family:'Liberation Sans';font-size:15.6px;line-height:18.72px;white-space:pre;color:#1c2a22;right:453.4px;-webkit-text-stroke:0.35px #1c2a22;">5%</div>
<div style="position:absolute;top:605.80px;font-family:'Liberation Sans';font-size:15px;line-height:18.0px;white-space:pre;color:#d82626;font-weight:bold;right:717.5px;">20%</div>
<div style="position:absolute;top:605.23px;font-family:'Liberation Sans';font-size:15.6px;line-height:18.72px;white-space:pre;color:#1c2a22;right:453.4px;-webkit-text-stroke:0.35px #1c2a22;">20%</div>
<div style="position:absolute;top:583.22px;font-family:'Liberation Sans';font-size:15.3px;line-height:18.36px;white-space:pre;color:#111;left:482.8px;">per year after 2011</div>
<div style="position:absolute;top:648.89px;font-family:'Liberation Sans';font-size:16.6px;line-height:19.92px;white-space:pre;color:#111;right:629.2px;">2002</div>
<div style="position:absolute;top:648.89px;font-family:'Liberation Sans';font-size:16.6px;line-height:19.92px;white-space:pre;color:#111;right:571.0px;">2003</div>
<div style="position:absolute;top:648.89px;font-family:'Liberation Sans';font-size:16.6px;line-height:19.92px;white-space:pre;color:#111;right:512.3px;">2004</div>
<div style="position:absolute;top:648.89px;font-family:'Liberation Sans';font-size:16.6px;line-height:19.92px;white-space:pre;color:#111;right:454.4px;">2005</div>
<div style="position:absolute;top:648.89px;font-family:'Liberation Sans';font-size:16.6px;line-height:19.92px;white-space:pre;color:#111;right:395.70000000000005px;">2006</div>
<div style="position:absolute;top:648.89px;font-family:'Liberation Sans';font-size:16.6px;line-height:19.92px;white-space:pre;color:#111;right:332.6px;">2007</div>
<div style="position:absolute;top:648.89px;font-family:'Liberation Sans';font-size:16.6px;line-height:19.92px;white-space:pre;color:#111;right:269.0px;">2008</div>
<div style="position:absolute;top:648.89px;font-family:'Liberation Sans';font-size:16.6px;line-height:19.92px;white-space:pre;color:#111;right:205.20000000000005px;">2009</div>
<div style="position:absolute;top:648.89px;font-family:'Liberation Sans';font-size:16.6px;line-height:19.92px;white-space:pre;color:#111;right:141.5px;">2010</div>
<div style="position:absolute;top:648.89px;font-family:'Liberation Sans';font-size:16.6px;line-height:19.92px;white-space:pre;color:#111;right:53.40000000000009px;">2011</div>
<div style="position:absolute;top:672.32px;font-family:'Liberation Sans';font-size:15.4px;line-height:18.48px;white-space:pre;color:#111;font-weight:bold;left:45px;">Valuation Model Outputs:</div>
<div style="position:absolute;top:693.49px;font-family:'Liberation Sans';font-size:16.6px;line-height:19.92px;white-space:pre;color:#111;letter-spacing:0.129px;right:770px;margin-right:-0.129px;">Gross profit margin</div>
<div style="position:absolute;top:693.49px;font-family:'Liberation Sans';font-size:16.6px;line-height:19.92px;white-space:pre;color:#111;right:629.7px;">50%</div>
<div style="position:absolute;top:693.49px;font-family:'Liberation Sans';font-size:16.6px;line-height:19.92px;white-space:pre;color:#111;right:571.5px;">51%</div>
<div style="position:absolute;top:693.49px;font-family:'Liberation Sans';font-size:16.6px;line-height:19.92px;white-space:pre;color:#111;right:512.8px;">52%</div>
<div style="position:absolute;top:693.49px;font-family:'Liberation Sans';font-size:16.6px;line-height:19.92px;white-space:pre;color:#111;right:454.9px;">53%</div>
<div style="position:absolute;top:693.49px;font-family:'Liberation Sans';font-size:16.6px;line-height:19.92px;white-space:pre;color:#111;right:396.20000000000005px;">54%</div>
<div style="position:absolute;top:693.49px;font-family:'Liberation Sans';font-size:16.6px;line-height:19.92px;white-space:pre;color:#111;right:333.1px;">55%</div>
<div style="position:absolute;top:693.49px;font-family:'Liberation Sans';font-size:16.6px;line-height:19.92px;white-space:pre;color:#111;right:269.5px;">56%</div>
<div style="position:absolute;top:693.49px;font-family:'Liberation Sans';font-size:16.6px;line-height:19.92px;white-space:pre;color:#111;right:205.70000000000005px;">57%</div>
<div style="position:absolute;top:693.49px;font-family:'Liberation Sans';font-size:16.6px;line-height:19.92px;white-space:pre;color:#111;right:142px;">58%</div>
<div style="position:absolute;top:693.49px;font-family:'Liberation Sans';font-size:16.6px;line-height:19.92px;white-space:pre;color:#111;right:53.90000000000009px;">59%</div>
<div style="position:absolute;top:715.79px;font-family:'Liberation Sans';font-size:16.6px;line-height:19.92px;white-space:pre;color:#111;letter-spacing:0.125px;right:770px;margin-right:-0.125px;">Net operating profit margin</div>
<div style="position:absolute;top:715.79px;font-family:'Liberation Sans';font-size:16.6px;line-height:19.92px;white-space:pre;color:#111;right:629.7px;">-10%</div>
<div style="position:absolute;top:715.79px;font-family:'Liberation Sans';font-size:16.6px;line-height:19.92px;white-space:pre;color:#111;right:571.5px;">1%</div>
<div style="position:absolute;top:715.79px;font-family:'Liberation Sans';font-size:16.6px;line-height:19.92px;white-space:pre;color:#111;right:512.8px;">12%</div>
<div style="position:absolute;top:715.79px;font-family:'Liberation Sans';font-size:16.6px;line-height:19.92px;white-space:pre;color:#111;right:454.9px;">10%</div>
<div style="position:absolute;top:715.79px;font-family:'Liberation Sans';font-size:16.6px;line-height:19.92px;white-space:pre;color:#111;right:396.20000000000005px;">10%</div>
<div style="position:absolute;top:715.79px;font-family:'Liberation Sans';font-size:16.6px;line-height:19.92px;white-space:pre;color:#111;right:333.1px;">11%</div>
<div style="position:absolute;top:715.79px;font-family:'Liberation Sans';font-size:16.6px;line-height:19.92px;white-space:pre;color:#111;right:269.5px;">12%</div>
<div style="position:absolute;top:715.79px;font-family:'Liberation Sans';font-size:16.6px;line-height:19.92px;white-space:pre;color:#111;right:205.70000000000005px;">13%</div>
<div style="position:absolute;top:715.79px;font-family:'Liberation Sans';font-size:16.6px;line-height:19.92px;white-space:pre;color:#111;right:142px;">14%</div>
<div style="position:absolute;top:715.79px;font-family:'Liberation Sans';font-size:16.6px;line-height:19.92px;white-space:pre;color:#111;right:53.90000000000009px;">16%</div>
<div style="position:absolute;top:738.09px;font-family:'Liberation Sans';font-size:16.6px;line-height:19.92px;white-space:pre;color:#111;letter-spacing:0.162px;right:770px;margin-right:-0.162px;">Free cash flow ($ mil)</div>
<div style="position:absolute;top:737.80px;font-family:'Liberation Sans';font-size:16.9px;line-height:20.28px;white-space:pre;color:#111;right:628.2px;">($1,3)</div>
<div style="position:absolute;top:737.80px;font-family:'Liberation Sans';font-size:16.9px;line-height:20.28px;white-space:pre;color:#111;right:570.0px;">($1,4)</div>
<div style="position:absolute;top:737.80px;font-family:'Liberation Sans';font-size:16.9px;line-height:20.28px;white-space:pre;color:#111;right:511.29999999999995px;">($1,3)</div>
<div style="position:absolute;top:737.80px;font-family:'Liberation Sans';font-size:16.9px;line-height:20.28px;white-space:pre;color:#111;right:453.4px;">($1,4)</div>
<div style="position:absolute;top:737.80px;font-family:'Liberation Sans';font-size:16.9px;line-height:20.28px;white-space:pre;color:#111;right:394.70000000000005px;">($1,0)</div>
<div style="position:absolute;top:737.80px;font-family:'Liberation Sans';font-size:16.9px;line-height:20.28px;white-space:pre;color:#111;right:337.6px;">$0,7</div>
<div style="position:absolute;top:737.80px;font-family:'Liberation Sans';font-size:16.9px;line-height:20.28px;white-space:pre;color:#111;right:274.0px;">$2,8</div>
<div style="position:absolute;top:737.80px;font-family:'Liberation Sans';font-size:16.9px;line-height:20.28px;white-space:pre;color:#111;right:210.20000000000005px;">$5,2</div>
<div style="position:absolute;top:737.80px;font-family:'Liberation Sans';font-size:16.9px;line-height:20.28px;white-space:pre;color:#111;right:146.5px;">$7,3</div>
<div style="position:absolute;top:737.80px;font-family:'Liberation Sans';font-size:16.9px;line-height:20.28px;white-space:pre;color:#111;right:58.40000000000009px;">$8,8</div>
<div style="position:absolute;top:760.39px;font-family:'Liberation Sans';font-size:16.6px;line-height:19.92px;white-space:pre;color:#111;letter-spacing:0.182px;right:770px;margin-right:-0.182px;">Terminal value ($ mil)</div>
<div style="position:absolute;top:760.10px;font-family:'Liberation Sans';font-size:16.9px;line-height:20.28px;white-space:pre;color:#111;right:58.40000000000009px;">$61,8</div>
<div style="position:absolute;top:805.11px;font-family:'Liberation Sans';font-size:17px;line-height:20.4px;white-space:pre;color:#111;font-weight:bold;right:770.4px;">PV of Company Operations ($ mil)</div>
<div style="position:absolute;top:805.11px;font-family:'Liberation Sans';font-size:17px;line-height:20.4px;white-space:pre;color:#111;font-weight:bold;right:633.5px;">$11,1</div>
<div style="position:absolute;top:849.91px;font-family:'Liberation Sans';font-size:17px;line-height:20.4px;white-space:pre;color:#111;font-weight:bold;right:770.4px;">Market Value of Company Assets ($ mil)</div>
<div style="position:absolute;left:477.4px;top:846.5px;width:90.2px;height:23.5px;background:#008b80;box-sizing:border-box;border:1.2px solid #0a1a18;box-shadow:9px 10px 6px rgba(10,40,25,0.82);"></div>
<div style="position:absolute;top:850.40px;font-family:'Liberation Sans';font-size:16.8px;line-height:20.16px;white-space:pre;color:#fff;font-weight:bold;right:632.8px;">$11,6</div>
<div style="position:absolute;left:1174px;top:92.7px;width:11.7px;height:538.8px;background:#8faa96;border-radius:6px;"></div>
<div style="position:absolute;left:0px;top:921px;width:1191px;height:49px;background:#fbfbfb;"></div>
<div style="position:absolute;left:0px;top:921px;width:1191px;height:1px;background:#e2e2e2;"></div>
<div style="position:absolute;left:0px;top:966.3px;width:1191px;height:1px;background:#a8a8a8;"></div>
<div style="position:absolute;left:0px;top:967.3px;width:1191px;height:3px;background:#f2f2f2;"></div>
<div style="position:absolute;left:702px;top:967.3px;width:63px;height:3px;background:#a9a9a9;"></div>
<svg style="position:absolute;left:0;top:925px" width="100" height="40"><polygon points="38.2,10.9 38.2,27.6 25.5,19.25" fill="#8a8a8a"/><polygon points="65,10.9 65,27.6 77.1,19.25" fill="#8a8a8a"/></svg>
<div style="position:absolute;left:104px;top:921px;width:251.5px;height:39px;background:#fff;box-shadow:0 1.5px 1.5px rgba(0,0,0,0.35);border-radius:0 0 2px 2px;"></div>
<div style="position:absolute;top:931.49px;font-family:'Liberation Sans';font-size:20.3px;line-height:24.36px;white-space:pre;color:#1f8a5a;font-weight:bold;letter-spacing:0.05px;left:124.0px;">Forecasting Variables</div>
<div style="position:absolute;top:931.49px;font-family:'Liberation Sans';font-size:20.3px;line-height:24.36px;white-space:pre;color:#666;left:398.0px;-webkit-text-stroke:0.3px #666;">DCF</div>
<div style="position:absolute;left:481px;top:923px;width:1px;height:35.5px;background:#dcdcdc;"></div>
<div style="position:absolute;left:545.8px;top:923px;width:1px;height:35.5px;background:#dcdcdc;"></div>
<div style="position:absolute;left:506.4px;top:940.7px;width:17.5px;height:3.3px;background:#555;"></div>
<div style="position:absolute;left:513.5px;top:933.6px;width:3.3px;height:17.5px;background:#555;"></div>
</body></html>
